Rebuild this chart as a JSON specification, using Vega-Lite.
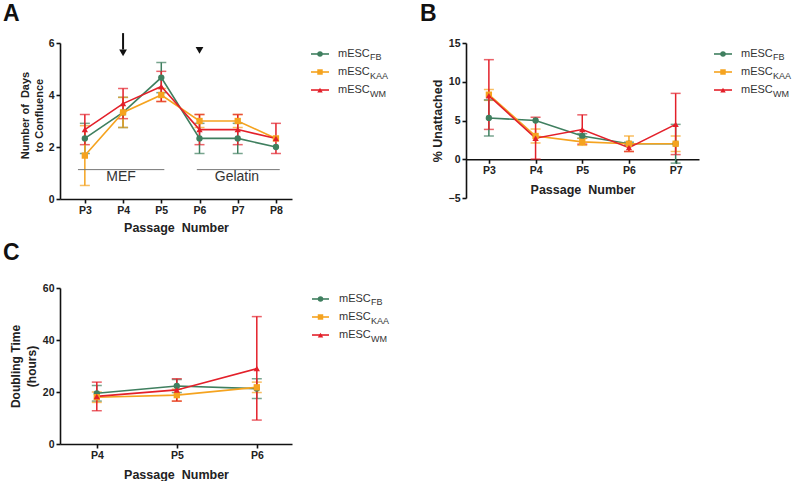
{
  "$schema": "https://vega.github.io/schema/vega-lite/v6.json",
  "background": "white",
  "padding": {"left": 3, "top": 3, "right": 0, "bottom": 0},
  "config": {
    "view": {"stroke": null},
    "font": "Liberation Sans",
    "axis": {
      "domainColor": "#111", "domainWidth": 1.6, "tickColor": "#111", "tickWidth": 1.6, "tickSize": 4,
      "labelFont": "Liberation Sans", "labelFontWeight": "bold", "labelFontSize": 10.5, "labelColor": "#222", "labelPadding": 2, "labelOverlap": false,
      "titleFont": "Liberation Sans", "titleFontWeight": "bold", "titleFontSize": 12.5, "titleColor": "#222", "grid": false
    }
  },
  "bounds": "flush",
  "columns": 4,
  "spacing": {"row": 89, "column": 10},
  "concat": [
    {
      "width": 232, "height": 156,
      "title": {"text": "A", "anchor": "start", "frame": "group", "fontSize": 23, "fontWeight": "bold", "color": "#111", "dx": -57, "offset": 6},
      "data": {"name": "A"},
      "encoding": {
        "x": {"field": "p", "type": "quantitative", "scale": {"domain": [2.35, 8.42], "nice": false, "zero": false},
              "axis": {"values": [3, 4, 5, 6, 7, 8], "labelExpr": "'P' + datum.value", "title": "Passage\u00a0 Number", "titlePadding": 6}},
        "color": {"field": "s", "type": "nominal", "scale": {"domain": ["FB", "KAA", "WM"], "range": ["#3f7f5f", "#f5a31f", "#e3202a"]}, "legend": null}
      },
      "layer": [
        {"mark": {"type": "errorbar", "ticks": true, "size": 10, "thickness": 1.5},
         "encoding": {"y": {"field": "lo", "type": "quantitative", "scale": {"domain": [0, 6], "nice": false},
                            "axis": {"values": [0, 2, 4, 6], "title": ["Number of\u00a0 Days", "to Confluence"], "titleFontSize": 11, "titleLineHeight": 14, "titleY": 72}},
                      "y2": {"field": "hi"}}},
        {"mark": {"type": "line", "strokeWidth": 1.6}, "encoding": {"y": {"field": "v", "type": "quantitative"}}},
        {"mark": {"type": "point", "filled": true, "size": 40, "opacity": 1},
         "encoding": {"y": {"field": "v", "type": "quantitative"},
                      "shape": {"field": "s", "type": "nominal", "scale": {"domain": ["FB", "KAA", "WM"], "range": ["circle", "square", "triangle-up"]}, "legend": null}}},
        {"data": {"name": "annotA"}, "mark": {"type": "rule", "strokeWidth": 1},
         "encoding": {"x": {"field": "x1", "type": "quantitative"}, "x2": {"field": "x2"}, "y": {"field": "y", "type": "quantitative"}, "color": {"value": "#777"}}},
        {"data": {"name": "annotA"}, "mark": {"type": "text", "fontSize": 14, "baseline": "middle", "align": "center"},
         "encoding": {"x": {"field": "tx", "type": "quantitative"}, "y": {"field": "ty", "type": "quantitative"}, "text": {"field": "label"}, "color": {"value": "#333"}}},
        {"data": {"name": "arrowA"}, "mark": {"type": "rule", "strokeWidth": 2},
         "encoding": {"x": {"field": "x", "type": "quantitative"}, "y": {"field": "y", "type": "quantitative"}, "y2": {"field": "y2"}, "color": {"value": "#111"}}},
        {"data": {"name": "headsA"}, "mark": {"type": "point", "shape": "triangle-down", "filled": true, "size": 60, "opacity": 1},
         "encoding": {"x": {"field": "x", "type": "quantitative"}, "y": {"field": "y", "type": "quantitative"}, "color": {"value": "#111"}}}
      ]
    },
    {
      "width": 154, "height": 58,
      "data": {"name": "legend"},
      "encoding": {
        "y": {"field": "s", "type": "nominal", "scale": {"type": "point", "domain": ["FB", "KAA", "WM"], "padding": 0.61}, "axis": null},
        "color": {"field": "s", "type": "nominal", "scale": {"domain": ["FB", "KAA", "WM"], "range": ["#3f7f5f", "#f5a31f", "#e3202a"]}, "legend": null}
      },
      "layer": [
        {"mark": {"type": "rule", "strokeWidth": 1.6},
         "encoding": {"x": {"datum": 9, "type": "quantitative", "scale": {"domain": [0, 154], "nice": false, "zero": false}, "axis": null}, "x2": {"datum": 27}}},
        {"mark": {"type": "point", "filled": true, "size": 30, "opacity": 1},
         "encoding": {"x": {"datum": 18, "type": "quantitative"},
                      "shape": {"field": "s", "type": "nominal", "scale": {"domain": ["FB", "KAA", "WM"], "range": ["circle", "square", "triangle-up"]}, "legend": null}}},
        {"mark": {"type": "text", "align": "left", "baseline": "middle", "fontSize": 11},
         "encoding": {"x": {"datum": 36, "type": "quantitative"}, "text": {"field": "label"}, "color": {"value": "#333"}}},
        {"mark": {"type": "text", "align": "left", "baseline": "middle", "fontSize": 9, "dx": 32, "dy": 3.5},
         "encoding": {"x": {"datum": 36, "type": "quantitative"}, "text": {"field": "sub"}, "color": {"value": "#333"}}}
      ]
    },
    {
      "width": 233, "height": 155,
      "title": {"text": "B", "anchor": "start", "frame": "group", "fontSize": 23, "fontWeight": "bold", "color": "#111", "dx": -46, "offset": 12},
      "data": {"name": "B"},
      "encoding": {
        "x": {"field": "p", "type": "quantitative", "scale": {"domain": [2.51, 7.5], "nice": false, "zero": false},
              "axis": {"values": [3, 4, 5, 6, 7], "labelExpr": "'P' + datum.value", "title": "Passage\u00a0 Number", "offset": -38.75, "titlePadding": 8}},
        "color": {"field": "s", "type": "nominal", "scale": {"domain": ["FB", "KAA", "WM"], "range": ["#3f7f5f", "#f5a31f", "#e3202a"]}, "legend": null}
      },
      "layer": [
        {"mark": {"type": "errorbar", "ticks": true, "size": 10, "thickness": 1.5},
         "encoding": {"y": {"field": "lo", "type": "quantitative", "scale": {"domain": [-5, 15], "nice": false},
                            "axis": {"tickCount": 4, "title": "% Unattached", "labelOverlap": false, "labelFlush": false}},
                      "y2": {"field": "hi"}}},
        {"mark": {"type": "line", "strokeWidth": 1.6},
         "encoding": {"y": {"field": "v", "type": "quantitative", "axis": {"tickCount": 4, "title": "% Unattached", "labelOverlap": false, "labelFlush": false}}}},
        {"mark": {"type": "point", "filled": true, "size": 40, "opacity": 1},
         "encoding": {"y": {"field": "v", "type": "quantitative", "axis": {"tickCount": 4, "title": "% Unattached", "labelOverlap": false, "labelFlush": false}},
                      "shape": {"field": "s", "type": "nominal", "scale": {"domain": ["FB", "KAA", "WM"], "range": ["circle", "square", "triangle-up"]}, "legend": null}}}
      ]
    },
    {
      "width": 85, "height": 58,
      "data": {"name": "legend"},
      "encoding": {
        "y": {"field": "s", "type": "nominal", "scale": {"type": "point", "domain": ["FB", "KAA", "WM"], "padding": 0.61}, "axis": null},
        "color": {"field": "s", "type": "nominal", "scale": {"domain": ["FB", "KAA", "WM"], "range": ["#3f7f5f", "#f5a31f", "#e3202a"]}, "legend": null}
      },
      "layer": [
        {"mark": {"type": "rule", "strokeWidth": 1.6},
         "encoding": {"x": {"datum": 5, "type": "quantitative", "scale": {"domain": [0, 85], "nice": false, "zero": false}, "axis": null}, "x2": {"datum": 23}}},
        {"mark": {"type": "point", "filled": true, "size": 30, "opacity": 1},
         "encoding": {"x": {"datum": 14, "type": "quantitative"},
                      "shape": {"field": "s", "type": "nominal", "scale": {"domain": ["FB", "KAA", "WM"], "range": ["circle", "square", "triangle-up"]}, "legend": null}}},
        {"mark": {"type": "text", "align": "left", "baseline": "middle", "fontSize": 11},
         "encoding": {"x": {"datum": 32, "type": "quantitative"}, "text": {"field": "label"}, "color": {"value": "#333"}}},
        {"mark": {"type": "text", "align": "left", "baseline": "middle", "fontSize": 9, "dx": 32, "dy": 3.5},
         "encoding": {"x": {"datum": 32, "type": "quantitative"}, "text": {"field": "sub"}, "color": {"value": "#333"}}}
      ]
    },
    {
      "width": 232, "height": 156,
      "title": {"text": "C", "anchor": "start", "frame": "group", "fontSize": 23, "fontWeight": "bold", "color": "#111", "dx": -57, "offset": 18.5},
      "data": {"name": "C"},
      "encoding": {
        "x": {"field": "p", "type": "quantitative", "scale": {"domain": [3.54, 6.44], "nice": false, "zero": false},
              "axis": {"values": [4, 5, 6], "labelExpr": "'P' + datum.value", "title": "Passage\u00a0 Number", "titlePadding": 8}},
        "color": {"field": "s", "type": "nominal", "scale": {"domain": ["FB", "KAA", "WM"], "range": ["#3f7f5f", "#f5a31f", "#e3202a"]}, "legend": null}
      },
      "layer": [
        {"mark": {"type": "errorbar", "ticks": true, "size": 10, "thickness": 1.5},
         "encoding": {"y": {"field": "lo", "type": "quantitative", "scale": {"domain": [0, 60], "nice": false},
                            "axis": {"values": [0, 20, 40, 60], "title": ["Doubling Time", "(hours)"], "titleFontSize": 12, "titleLineHeight": 16}},
                      "y2": {"field": "hi"}}},
        {"mark": {"type": "line", "strokeWidth": 1.6}, "encoding": {"y": {"field": "v", "type": "quantitative"}}},
        {"mark": {"type": "point", "filled": true, "size": 40, "opacity": 1},
         "encoding": {"y": {"field": "v", "type": "quantitative"},
                      "shape": {"field": "s", "type": "nominal", "scale": {"domain": ["FB", "KAA", "WM"], "range": ["circle", "square", "triangle-up"]}, "legend": null}}}
      ]
    },
    {
      "width": 154, "height": 58,
      "data": {"name": "legend"},
      "encoding": {
        "y": {"field": "s", "type": "nominal", "scale": {"type": "point", "domain": ["FB", "KAA", "WM"], "padding": 0.61}, "axis": null},
        "color": {"field": "s", "type": "nominal", "scale": {"domain": ["FB", "KAA", "WM"], "range": ["#3f7f5f", "#f5a31f", "#e3202a"]}, "legend": null}
      },
      "layer": [
        {"mark": {"type": "rule", "strokeWidth": 1.6},
         "encoding": {"x": {"datum": 10, "type": "quantitative", "scale": {"domain": [0, 154], "nice": false, "zero": false}, "axis": null}, "x2": {"datum": 27}}},
        {"mark": {"type": "point", "filled": true, "size": 30, "opacity": 1},
         "encoding": {"x": {"datum": 18.5, "type": "quantitative"},
                      "shape": {"field": "s", "type": "nominal", "scale": {"domain": ["FB", "KAA", "WM"], "range": ["circle", "square", "triangle-up"]}, "legend": null}}},
        {"mark": {"type": "text", "align": "left", "baseline": "middle", "fontSize": 11},
         "encoding": {"x": {"datum": 37, "type": "quantitative"}, "text": {"field": "label"}, "color": {"value": "#333"}}},
        {"mark": {"type": "text", "align": "left", "baseline": "middle", "fontSize": 9, "dx": 32, "dy": 3.5},
         "encoding": {"x": {"datum": 37, "type": "quantitative"}, "text": {"field": "sub"}, "color": {"value": "#333"}}}
      ]
    }
  ],
  "datasets": {
    "A": [
      {"p": 3, "s": "FB", "v": 2.33, "lo": 1.75, "hi": 2.91},
      {"p": 4, "s": "FB", "v": 3.33, "lo": 2.75, "hi": 3.91},
      {"p": 5, "s": "FB", "v": 4.67, "lo": 4.09, "hi": 5.25},
      {"p": 6, "s": "FB", "v": 2.33, "lo": 1.75, "hi": 2.91},
      {"p": 7, "s": "FB", "v": 2.33, "lo": 1.75, "hi": 2.91},
      {"p": 8, "s": "FB", "v": 2.0, "lo": null, "hi": null},
      {"p": 3, "s": "KAA", "v": 1.67, "lo": 0.52, "hi": 2.82},
      {"p": 4, "s": "KAA", "v": 3.33, "lo": 2.75, "hi": 3.91},
      {"p": 5, "s": "KAA", "v": 4.0, "lo": 3.75, "hi": 4.25},
      {"p": 6, "s": "KAA", "v": 3.0, "lo": 2.75, "hi": 3.25},
      {"p": 7, "s": "KAA", "v": 3.0, "lo": 2.75, "hi": 3.25},
      {"p": 8, "s": "KAA", "v": 2.33, "lo": null, "hi": null},
      {"p": 3, "s": "WM", "v": 2.67, "lo": 2.09, "hi": 3.25},
      {"p": 4, "s": "WM", "v": 3.67, "lo": 3.09, "hi": 4.25},
      {"p": 5, "s": "WM", "v": 4.33, "lo": 3.75, "hi": 4.91},
      {"p": 6, "s": "WM", "v": 2.67, "lo": 2.09, "hi": 3.25},
      {"p": 7, "s": "WM", "v": 2.67, "lo": 2.09, "hi": 3.25},
      {"p": 8, "s": "WM", "v": 2.33, "lo": 1.75, "hi": 2.91}
    ],
    "annotA": [
      {"x1": 2.82, "x2": 5.08, "y": 1.13, "label": "MEF", "tx": 3.95, "ty": 0.85},
      {"x1": 5.93, "x2": 8.1, "y": 1.13, "label": "Gelatin", "tx": 6.98, "ty": 0.85}
    ],
    "arrowA": [
      {"x": 4, "y": 6.38, "y2": 5.75}
    ],
    "headsA": [
      {"x": 4, "y": 5.62},
      {"x": 6, "y": 5.72}
    ],
    "B": [
      {"p": 3, "s": "FB", "v": 5.33, "lo": 3.0, "hi": 7.66},
      {"p": 4, "s": "FB", "v": 5.0, "lo": null, "hi": null},
      {"p": 5, "s": "FB", "v": 3.0, "lo": 2.7, "hi": 3.3},
      {"p": 6, "s": "FB", "v": 2.0, "lo": 1.8, "hi": 2.2},
      {"p": 7, "s": "FB", "v": 2.0, "lo": -0.5, "hi": 4.5},
      {"p": 3, "s": "KAA", "v": 8.33, "lo": 7.6, "hi": 9.0},
      {"p": 4, "s": "KAA", "v": 3.0, "lo": 2.1, "hi": 3.9},
      {"p": 5, "s": "KAA", "v": 2.24, "lo": 1.8, "hi": 2.7},
      {"p": 6, "s": "KAA", "v": 2.0, "lo": 1.0, "hi": 3.0},
      {"p": 7, "s": "KAA", "v": 2.0, "lo": 1.0, "hi": 3.0},
      {"p": 3, "s": "WM", "v": 8.2, "lo": 3.85, "hi": 12.85},
      {"p": 4, "s": "WM", "v": 2.72, "lo": 0.02, "hi": 5.42},
      {"p": 5, "s": "WM", "v": 3.84, "lo": 1.95, "hi": 5.73},
      {"p": 6, "s": "WM", "v": 1.5, "lo": 1.0, "hi": 2.0},
      {"p": 7, "s": "WM", "v": 4.5, "lo": 0.6, "hi": 8.5}
    ],
    "C": [
      {"p": 4, "s": "FB", "v": 19.5, "lo": 16.5, "hi": 22.5},
      {"p": 5, "s": "FB", "v": 22.3, "lo": 19.8, "hi": 24.8},
      {"p": 6, "s": "FB", "v": 21.3, "lo": 17.5, "hi": 25.1},
      {"p": 4, "s": "KAA", "v": 18.0, "lo": 16.0, "hi": 20.0},
      {"p": 5, "s": "KAA", "v": 18.8, "lo": 16.5, "hi": 21.1},
      {"p": 6, "s": "KAA", "v": 21.8, "lo": 19.8, "hi": 23.8},
      {"p": 4, "s": "WM", "v": 18.3, "lo": 12.8, "hi": 23.8},
      {"p": 5, "s": "WM", "v": 20.8, "lo": 16.5, "hi": 25.1},
      {"p": 6, "s": "WM", "v": 29.0, "lo": 9.2, "hi": 49.0}
    ],
    "legend": [
      {"s": "FB", "label": "mESC", "sub": "FB"},
      {"s": "KAA", "label": "mESC", "sub": "KAA"},
      {"s": "WM", "label": "mESC", "sub": "WM"}
    ]
  }
}
